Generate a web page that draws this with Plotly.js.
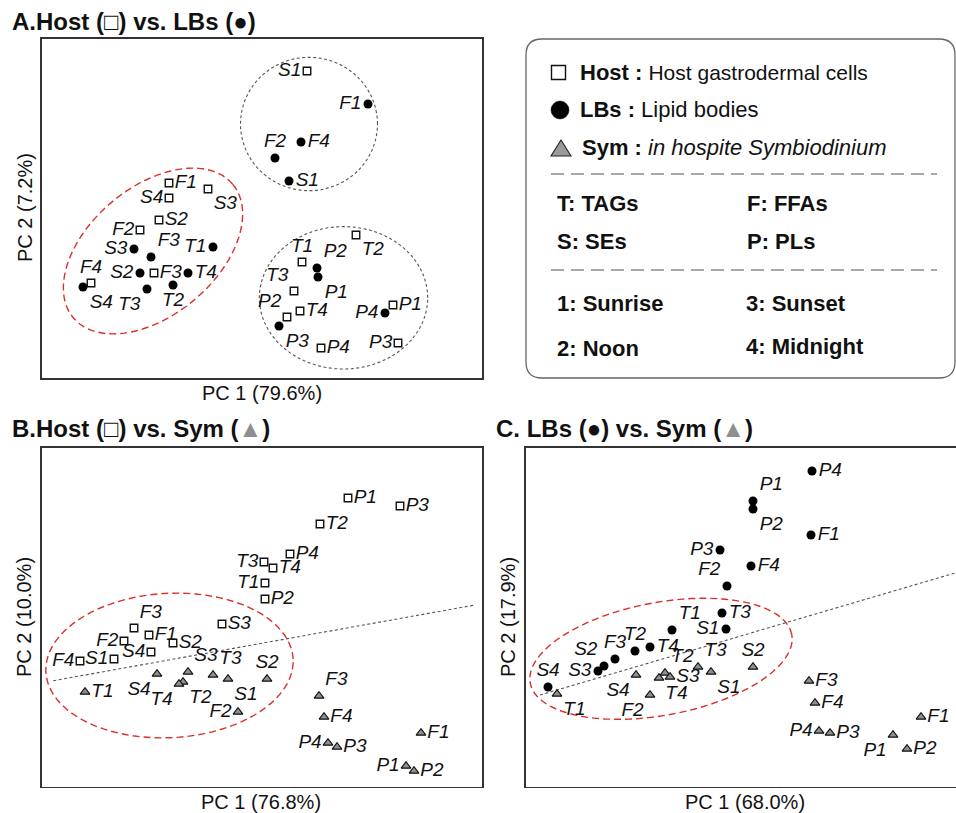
<!DOCTYPE html>
<html>
<head>
<meta charset="utf-8">
<script src="https://cdn.plot.ly/plotly-3.0.1.min.js"></script>
<style>
  html, body { margin: 0; padding: 0; background: #fff; }
  #chart { width: 956px; height: 813px; }
</style>
</head>
<body>
<div id="chart"></div>
<script>
// Sample codes: lipid class (T, S, F, P) + time point (1-4)
const samples = ['T1','T2','T3','T4','S1','S2','S3','S4','F1','F2','F3','F4','P1','P2','P3','P4'];

// ---- A. Host vs. LBs: PCA scores ----
const aHostPC1 = [4.0, 9.4, 3.2, 3.8, 4.5, -10.3, -5.4, -9.3, -9.3, -12.2, -10.8, -17.1, 13.1, 2.5, 13.6, 5.9];
const aHostPC2 = [-5.4, -2.7, -8.3, -10.3, 13.7, -1.2, 1.9, 1.0, 2.5, -2.2, -6.5, -7.5, -9.7, -10.9, -13.5, -14.0];
const aLBsPC1  = [-4.9, -8.9, -11.5, -7.4, 2.7, -12.2, -12.8, -17.9, 10.6, 1.3, -11.1, 3.9, 5.6, 5.5, 1.7, 12.3];
const aLBsPC2  = [-3.9, -7.7, -8.1, -6.5, 2.7, -6.5, -4.1, -7.9, 10.4, 5.0, -4.9, 6.6, -6.9, -6.0, -11.8, -10.5];

// ---- B. Host vs. Sym: PCA scores ----
const bHostPC1 = [0.3, 5.8, 0.2, 1.1, -14.8, -8.9, -4.0, -11.1, -11.3, -13.8, -12.8, -18.2, 8.6, 0.3, 13.8, 2.8];
const bHostPC2 = [3.4, 9.3, 5.5, 4.9, -4.2, -2.6, -0.7, -3.5, -1.8, -2.4, -1.1, -4.4, 11.9, 1.8, 11.1, 6.3];
const bSymPC1  = [-17.7, -7.9, -4.9, -8.3, -3.4, 0.5, -7.4, -10.5, 15.9, -2.4, 5.7, 6.2, 14.4, 15.2, 7.5, 6.6];
const bSymPC2  = [-7.5, -6.5, -5.8, -6.7, -6.2, -6.2, -5.5, -5.7, -11.6, -9.5, -7.9, -10.0, -14.9, -15.4, -13.0, -12.6];

// ---- C. LBs vs. Sym: PCA scores ----
const cLBsPC1 = [-6.8, -10.5, -1.8, -9.0, -1.4, -13.6, -14.2, -19.2, 7.1, -1.3, -12.5, 1.1, 1.3, 1.3, -2.0, 7.2];
const cLBsPC2 = [-1.3, -3.4, 0.4, -3.0, -1.2, -4.9, -5.4, -7.0, 8.2, 3.1, -4.2, 5.1, 11.6, 10.8, 6.7, 14.6];
const cSymPC1 = [-18.3, -7.5, -4.2, -8.1, -2.9, 1.3, -7.0, -10.4, 18.1, -9.0, 6.9, 7.5, 15.3, 16.7, 9.0, 7.9];
const cSymPC2 = [-7.7, -5.6, -5.0, -6.1, -5.5, -5.0, -6.0, -5.8, -10.0, -7.8, -6.4, -8.6, -11.8, -13.2, -11.6, -11.4];

// Axis titles (explained variance)
const axisTitles = {
  A: ['PC 1 (79.6%)', 'PC 2 (7.2%)'],
  B: ['PC 1 (76.8%)', 'PC 2 (10.0%)'],
  C: ['PC 1 (68.0%)', 'PC 2 (17.9%)']
};

// Grouping ellipses: [centre PC1, centre PC2, semi-axis a, semi-axis b, rotation deg]
const ellA_red   = [-10.9, -4.3, 10.4, 6.4, 40];
const ellA_top   = [4.7, 8.4, 6.85, 6.67, 0];
const ellA_bot   = [8.15, -8.98, 8.42, 7.12, 0];
const ellB_red   = [-9.25, -4.85, 12.38, 7.22, 3];
const ellC_red   = [-7.9, -4.18, 13.3, 5.64, 10.5];
// Separating lines: [x0, y0, x1, y1]
const sepB = [-20.87, -6.37, 21.3, 1.2];
const sepC = [-20.0, -7.8, 21.6, 4.43];

// ---- label placement around each marker ----
const posAHost = ['top center','bottom right','top left','middle right','middle left','middle right','bottom right','middle left',
                  'middle right','middle left','middle right','top center','middle right','top left','middle left','middle right'];
const posALBs  = ['middle left','bottom center','bottom left','middle right','middle right','middle left','middle left','bottom right',
                  'middle left','top center','top right','middle right','bottom right','top right','bottom right','middle left'];
const posBHost = ['middle left','middle right','middle left','middle right','middle left','middle right','middle right','middle left',
                  'middle right','middle left','top right','middle left','middle right','middle right','middle right','middle right'];
const posBSym  = ['middle right','bottom right','top right','bottom left','bottom right','top center','top right','bottom left',
                  'middle right','middle left','top right','middle right','middle left','middle right','middle right','middle left'];
const posCLBs  = ['top right','top center','middle right','middle right','middle left','top left','middle left','top center',
                  'middle right','top left','top center','middle right','top right','bottom right','middle left','middle right'];
const posCSym  = ['bottom right','top right','top right','bottom right','bottom right','top center','middle right','bottom left',
                  'middle right','bottom left','middle right','middle right','bottom left','middle right','middle right','middle left'];

const FONT = 'Liberation Sans, Arial, Helvetica, sans-serif';
const W = 956, H = 813;
const px = x => x / W;
const py = y => 1 - y / H;

const labelFont = { family: FONT, size: 19, color: '#111', style: 'italic' };

const hostMarker = { symbol: 'square-open', size: 7.5, color: '#111', line: { width: 1.4, color: '#111' } };
const lbsMarker  = { symbol: 'circle', size: 9, color: '#000', line: { width: 0 } };
const symMarker  = { symbol: 'triangle-up', size: 8.5, color: '#8f8f8f', line: { width: 1.1, color: '#111' } };

function pts(x, y, marker, pos, xa, ya, name) {
  return {
    type: 'scatter', mode: 'markers+text', name: name,
    x: x, y: y, text: samples, textposition: pos, textfont: labelFont,
    marker: marker, xaxis: xa, yaxis: ya, hoverinfo: 'text', cliponaxis: false, showlegend: false
  };
}

const traces = [
  pts(aHostPC1, aHostPC2, hostMarker, posAHost, 'x', 'y', 'Host'),
  pts(aLBsPC1, aLBsPC2, lbsMarker, posALBs, 'x', 'y', 'LBs'),
  pts(bHostPC1, bHostPC2, hostMarker, posBHost, 'x2', 'y2', 'Host'),
  pts(bSymPC1, bSymPC2, symMarker, posBSym, 'x2', 'y2', 'Sym'),
  pts(cLBsPC1, cLBsPC2, lbsMarker, posCLBs, 'x3', 'y3', 'LBs'),
  pts(cSymPC1, cSymPC2, symMarker, posCSym, 'x3', 'y3', 'Sym')
];

function ellipsePath(e) {
  const [cx, cy, a, b, deg] = e;
  const th = deg * Math.PI / 180;
  let d = '';
  for (let i = 0; i <= 90; i++) {
    const t = 2 * Math.PI * i / 90;
    const x = cx + a * Math.cos(t) * Math.cos(th) - b * Math.sin(t) * Math.sin(th);
    const y = cy + a * Math.cos(t) * Math.sin(th) + b * Math.sin(t) * Math.cos(th);
    d += (i === 0 ? 'M' : 'L') + x.toFixed(3) + ',' + y.toFixed(3);
  }
  return d + 'Z';
}

const redLine  = { color: '#d9302c', width: 1.4, dash: '7px,4px' };
const grayLine = { color: '#555', width: 1.1, dash: '3px,2.5px' };

const shapes = [
  { type: 'path', xref: 'x', yref: 'y', path: ellipsePath(ellA_red), line: redLine, layer: 'below' },
  { type: 'path', xref: 'x', yref: 'y', path: ellipsePath(ellA_top), line: grayLine, layer: 'below' },
  { type: 'path', xref: 'x', yref: 'y', path: ellipsePath(ellA_bot), line: grayLine, layer: 'below' },
  { type: 'path', xref: 'x2', yref: 'y2', path: ellipsePath(ellB_red), line: redLine, layer: 'below' },
  { type: 'path', xref: 'x3', yref: 'y3', path: ellipsePath(ellC_red), line: redLine, layer: 'below' },
  { type: 'line', xref: 'x2', yref: 'y2', x0: sepB[0], y0: sepB[1], x1: sepB[2], y1: sepB[3], line: grayLine, layer: 'below' },
  { type: 'line', xref: 'x3', yref: 'y3', x0: sepC[0], y0: sepC[1], x1: sepC[2], y1: sepC[3], line: grayLine, layer: 'below' }
];

// Key box with rounded corners (paper coordinates from pixel positions)
(function () {
  const x0 = 526, x1 = 955, y0 = 39, y1 = 378, r = 16;
  const P = (x, y) => px(x).toFixed(5) + ',' + py(y).toFixed(5);
  const path = 'M' + P(x0 + r, y0) + 'L' + P(x1 - r, y0) + 'Q' + P(x1, y0) + ' ' + P(x1, y0 + r) +
               'L' + P(x1, y1 - r) + 'Q' + P(x1, y1) + ' ' + P(x1 - r, y1) +
               'L' + P(x0 + r, y1) + 'Q' + P(x0, y1) + ' ' + P(x0, y1 - r) +
               'L' + P(x0, y0 + r) + 'Q' + P(x0, y0) + ' ' + P(x0 + r, y0) + 'Z';
  shapes.push({ type: 'path', xref: 'paper', yref: 'paper', path: path, line: { color: '#666', width: 1.3 } });
  // dashed separators
  [174, 270].forEach(y => shapes.push({ type: 'line', xref: 'paper', yref: 'paper',
    x0: px(551), x1: px(937), y0: py(y), y1: py(y), line: { color: '#8a8a8a', width: 1.4, dash: '13px,7px' } }));
  // key symbols
  shapes.push({ type: 'rect', xref: 'paper', yref: 'paper', x0: px(551.5), x1: px(565.5), y0: py(65.5), y1: py(79.5),
    line: { color: '#111', width: 1.4 }, fillcolor: 'rgba(0,0,0,0)' });
  shapes.push({ type: 'circle', xref: 'paper', yref: 'paper', x0: px(551), x1: px(569), y0: py(101), y1: py(119),
    line: { color: '#000', width: 0.5 }, fillcolor: '#000' });
  shapes.push({ type: 'path', xref: 'paper', yref: 'paper',
    path: 'M' + P(551, 156) + 'L' + P(571, 156) + 'L' + P(561, 140) + 'Z',
    line: { color: '#222', width: 1.1 }, fillcolor: '#9a9a9a' });
})();

function note(text, x, y, size, extra) {
  return Object.assign({ text: text, xref: 'paper', yref: 'paper', x: px(x), y: py(y), xanchor: 'left', yanchor: 'middle',
    showarrow: false, font: { family: FONT, size: size, color: '#111' } }, extra || {});
}

const GRAYTRI = '<span style="color:#8f8f8f">▲</span>';
const annotations = [
  // panel titles
  note('<b>A.Host (□) vs. LBs (●)</b>', 10, 22, 24),
  note('<b>B.Host (□) vs. Sym (' + GRAYTRI + ')</b>', 10, 428, 24),
  note('<b>C. LBs (●) vs. Sym (' + GRAYTRI + ')</b>', 494, 428, 24),
  // axis titles
  note(axisTitles.A[0], 262, 393, 20, { xanchor: 'center' }),
  note(axisTitles.A[1], 25, 208, 20, { xanchor: 'center', textangle: -90 }),
  note(axisTitles.B[0], 261, 802, 20, { xanchor: 'center' }),
  note(axisTitles.B[1], 24, 617, 20, { xanchor: 'center', textangle: -90 }),
  note(axisTitles.C[0], 745, 802, 20, { xanchor: 'center' }),
  note(axisTitles.C[1], 508, 617, 20, { xanchor: 'center', textangle: -90 }),
  // key text
  note('<b>Host :</b> <span style="font-size:21px">Host gastrodermal cells</span>', 578, 72, 22),
  note('<b>LBs :</b> Lipid bodies', 578, 110, 22),
  note('<b>Sym :</b> <i>in hospite Symbiodinium</i>', 580, 148, 22),
  note('<b>T: TAGs</b>', 555, 204, 22),
  note('<b>F: FFAs</b>', 745, 204, 22),
  note('<b>S: SEs</b>', 555, 242, 22),
  note('<b>P: PLs</b>', 745, 242, 22),
  note('<b>1: Sunrise</b>', 555, 303, 22),
  note('<b>3: Sunset</b>', 744, 303, 22),
  note('<b>2: Noon</b>', 555, 348, 22),
  note('<b>4: Midnight</b>', 744, 346, 22)
];

function axis(domain, range, anchor, mirror) {
  return { domain: domain, range: range, anchor: anchor, showgrid: false, zeroline: false, showticklabels: false,
    ticks: '', showline: true, mirror: mirror, linecolor: '#333', linewidth: 1.6, fixedrange: true };
}

const xdomAB = [px(42), px(482)];
const xdomC = [px(526), 1];
const ydomA = [py(378), py(39)];
const ydomBC = [py(786.7), py(447.7)];

const layout = {
  width: W, height: H,
  margin: { l: 0, r: 0, t: 0, b: 0 },
  paper_bgcolor: '#fff', plot_bgcolor: '#fff',
  showlegend: false,
  xaxis:  axis(xdomAB, [-22, 22], 'y', true),
  yaxis:  axis(ydomA, [-17.0, 16.9], 'x', true),
  xaxis2: axis(xdomAB, [-22, 22], 'y2', true),
  yaxis2: axis(ydomBC, [-16.97, 16.93], 'x2', true),
  xaxis3: axis(xdomC, [-21.4, 21.6], 'y3', true),
  yaxis3: axis(ydomBC, [-16.97, 16.93], 'x3', false),
  shapes: shapes,
  annotations: annotations
};

Plotly.newPlot('chart', traces, layout, { displayModeBar: false, staticPlot: true });
</script>
</body>
</html>
